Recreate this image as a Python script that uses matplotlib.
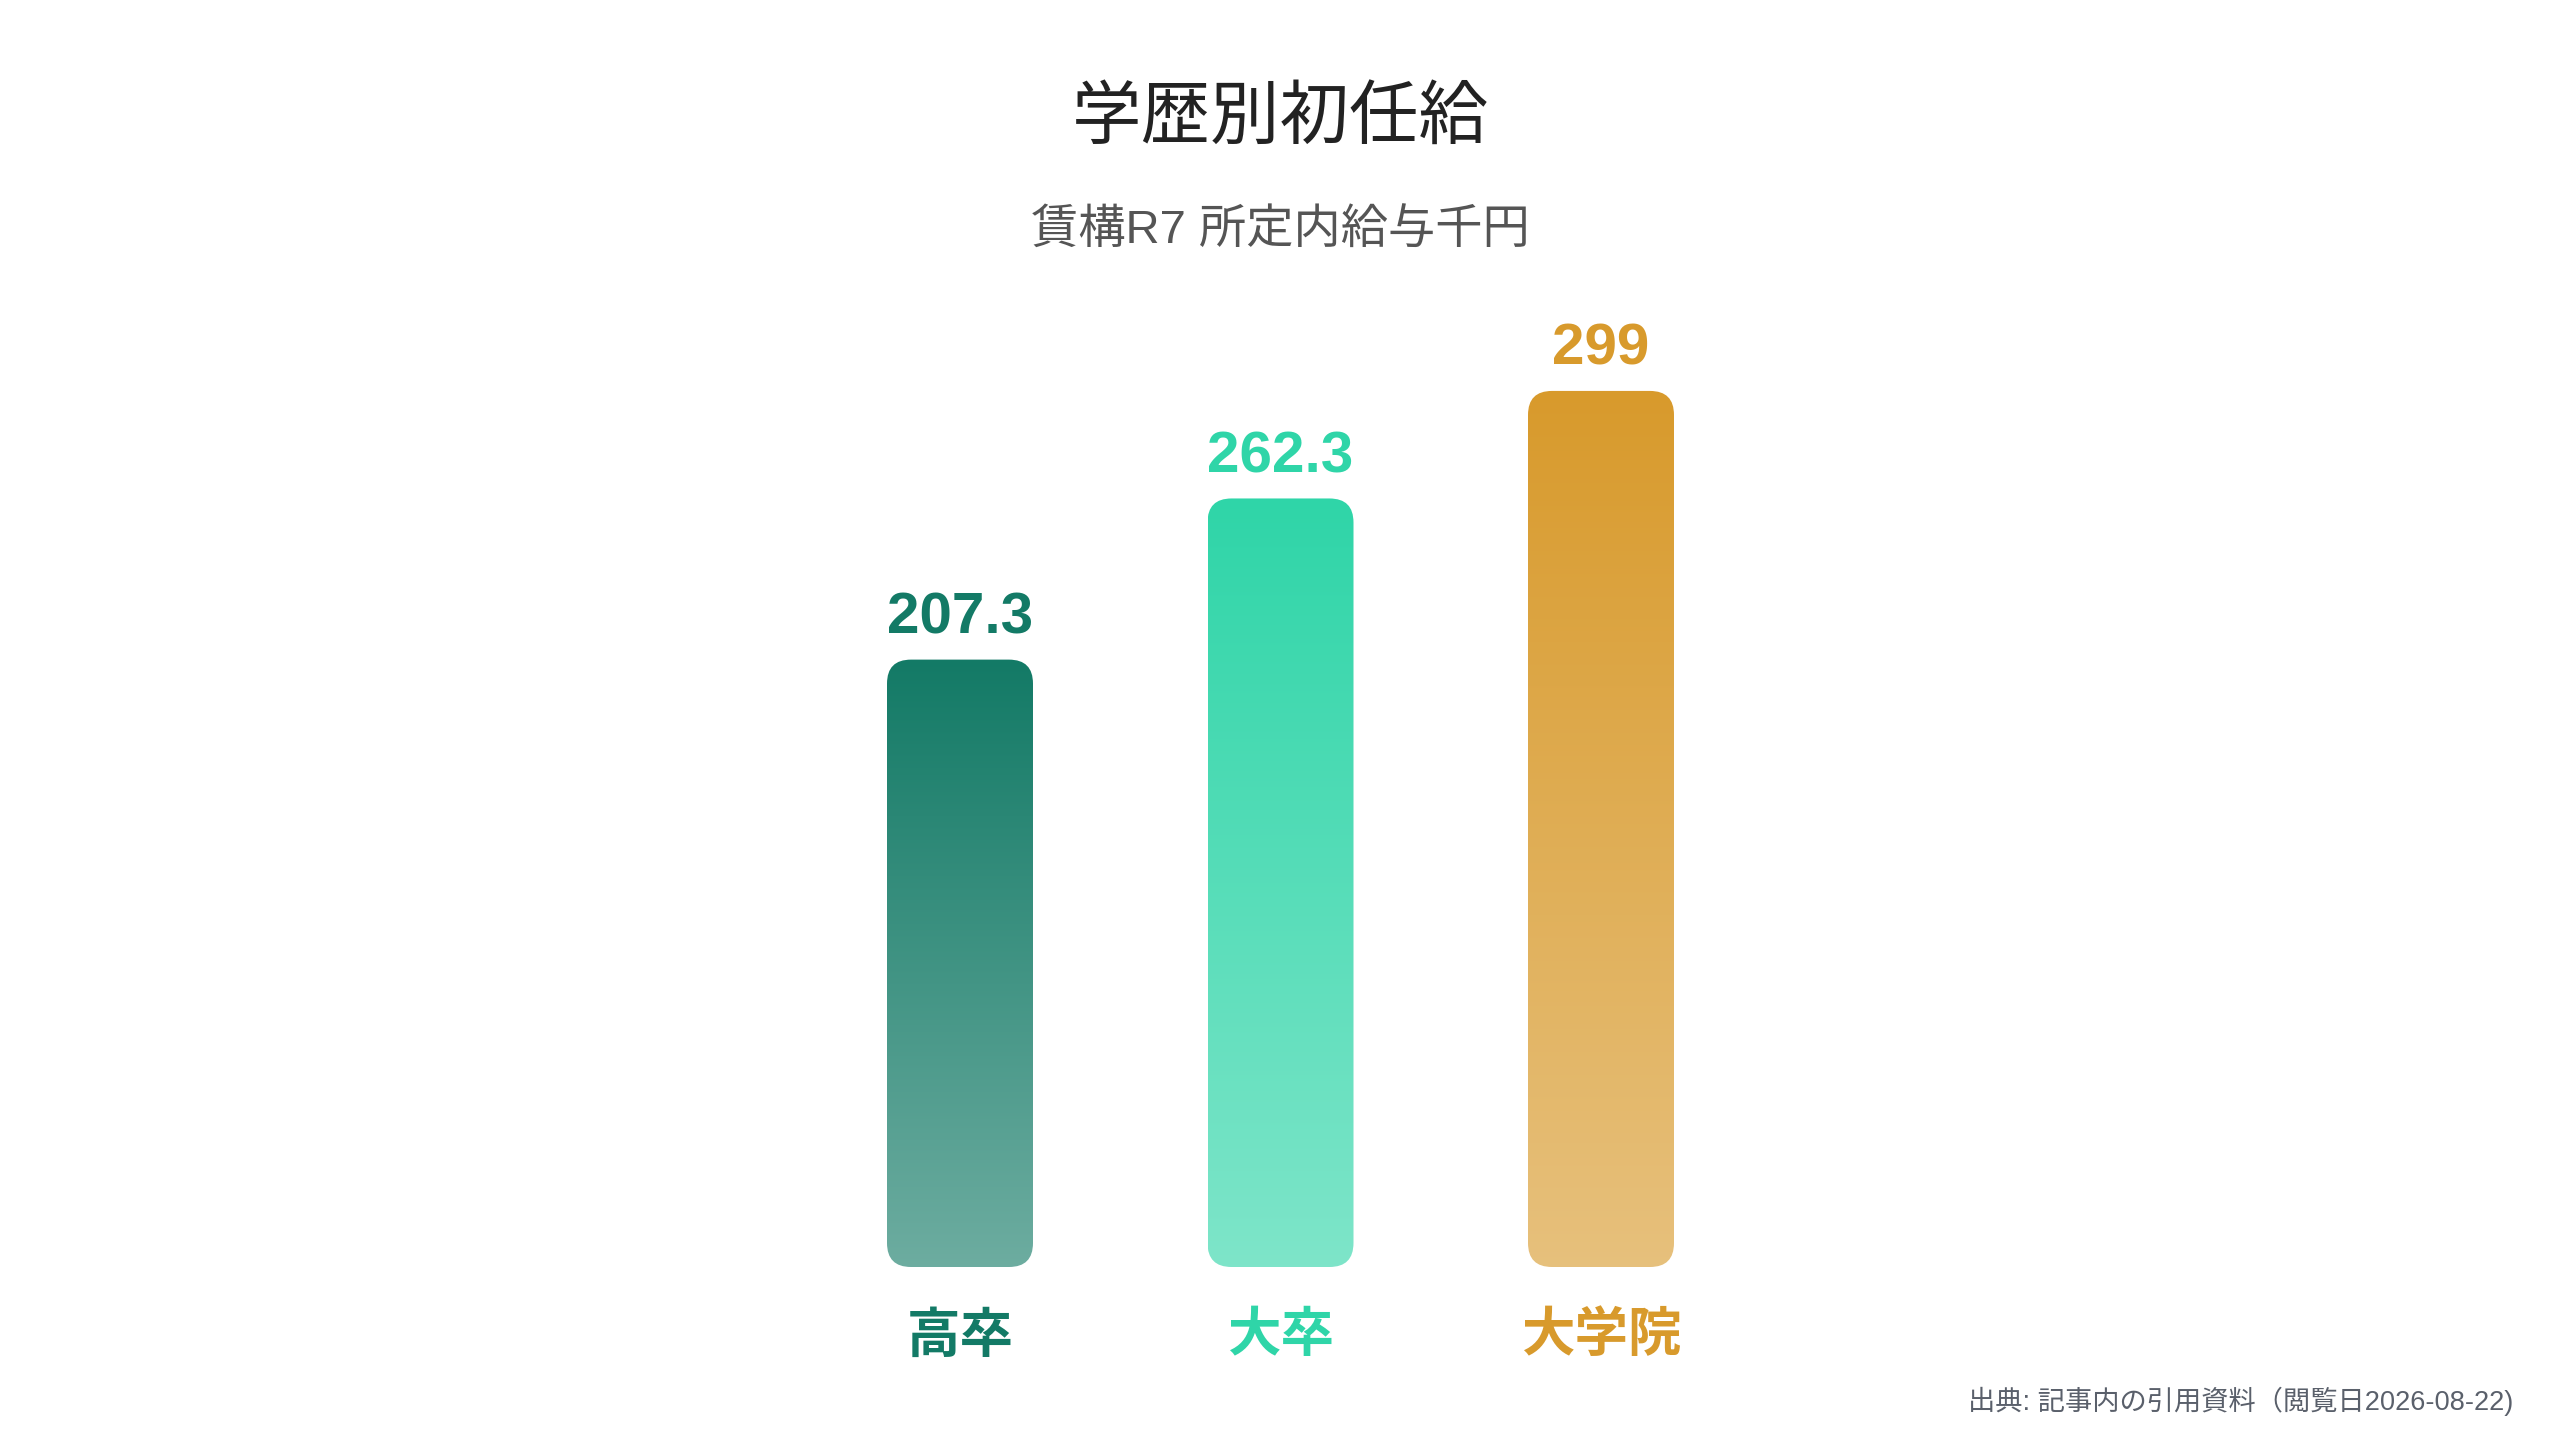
import numpy as np
import matplotlib
matplotlib.use("Agg")
import matplotlib.pyplot as plt
from matplotlib.patches import FancyBboxPatch
from matplotlib.colors import to_rgb

# ---- data ----
categories = ["高卒", "大卒", "大学院"]
values = [207.3, 262.3, 299]
value_labels = ["207.3", "262.3", "299"]
colors = ["#137a66", "#2fd5a8", "#d89a2c"]
title = "学歴別初任給"
subtitle = "賃構R7 所定内給与千円"
source = "出典: 記事内の引用資料（閲覧日2026-08-22)"

FAM = ["Liberation Sans", "Noto Sans CJK JP", "DejaVu Sans"]
plt.rcParams["font.family"] = FAM

W, H, DPI = 2560, 1440, 100
fig = plt.figure(figsize=(W / DPI, H / DPI), dpi=DPI, facecolor="white")

# axes geometry (pixels)
base_px = 1267          # baseline from top
px_per_unit = 2.93
ymax = 340
ax_h_px = ymax * px_per_unit
x_spacing = 320.5
x0_px = 960
xlo, xhi = -1.5, 3.5
ax_l_px = x0_px + xlo * x_spacing
ax_w_px = (xhi - xlo) * x_spacing
ax = fig.add_axes([ax_l_px / W, (H - base_px) / H, ax_w_px / W, ax_h_px / H])
ax.set_xlim(xlo, xhi)
ax.set_ylim(0, ymax)
ax.axis("off")

bar_w = 146 / x_spacing
radius_px = 24
rx = radius_px / x_spacing
ry = radius_px / px_per_unit

for i, (v, c) in enumerate(zip(values, colors)):
    rgb = np.array(to_rgb(c))
    n = 256
    alpha = np.linspace(1.0, 0.62, n)  # top -> bottom
    col = rgb[None, :] * alpha[:, None] + (1 - alpha[:, None])
    img = col[:, None, :]
    patch = FancyBboxPatch((i - bar_w / 2, 0), bar_w, v,
                           boxstyle=f"round,pad=0,rounding_size={rx}",
                           mutation_aspect=ry / rx,
                           facecolor="none", edgecolor="none")
    ax.add_patch(patch)
    im = ax.imshow(img, extent=[i - bar_w / 2, i + bar_w / 2, 0, v],
                   origin="upper", aspect="auto", interpolation="bilinear", zorder=2)
    im.set_clip_path(patch)
    ax.annotate(value_labels[i], xy=(i, v), xytext=(0, 26), textcoords="offset pixels",
                ha="center", va="baseline", fontsize=42, fontweight="bold", color=c,
                family=FAM)
    ax.annotate(categories[i], xy=(i, 0), xytext=(0, -69), textcoords="offset pixels",
                ha="center", va="center", fontsize=38.5, fontweight="bold", color=c,
                family=["Noto Sans CJK JP", "DejaVu Sans"])

ax.set_xlim(xlo, xhi)
ax.set_ylim(0, ymax)

fig.text(0.5, 1 - 118 / H, title, ha="center", va="center", fontsize=50,
         color="#222222", family=["Noto Sans CJK JP", "DejaVu Sans"])
fig.text(0.5, 1 - 232 / H, subtitle, ha="center", va="center", fontsize=34,
         color="#555555", family=FAM)
fig.text(2513 / W, 1 - 1401 / H, source, ha="right", va="center", fontsize=19.6,
         color="#5a606b", family=FAM)

fig.savefig("out.png", dpi=DPI, facecolor="white")
